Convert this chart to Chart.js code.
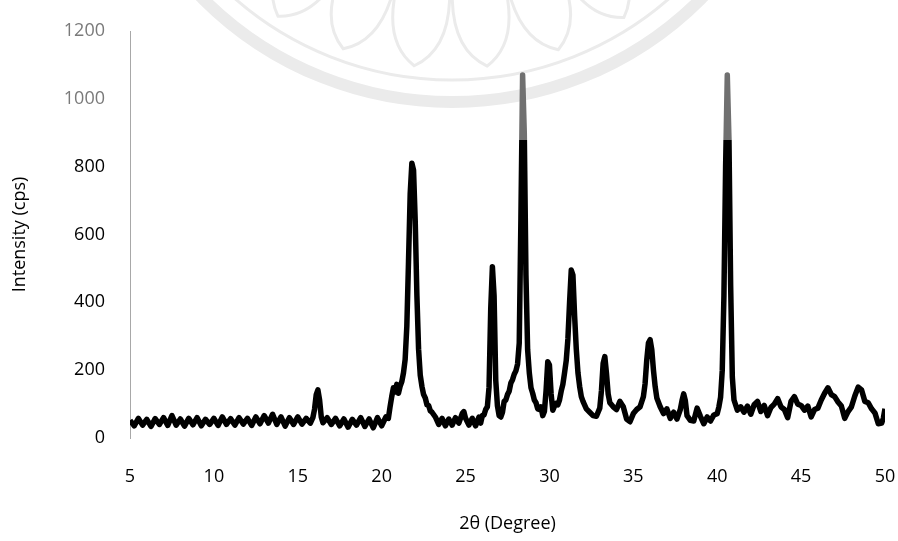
<!DOCTYPE html>
<html>
<head>
<meta charset="utf-8">
<script src="https://cdn.jsdelivr.net/npm/chart.js@4.4.1/dist/chart.umd.min.js"></script>
<style>
  html, body { margin: 0; padding: 0; background: #fff; }
  #wrap { width: 898px; height: 541px; }
</style>
</head>
<body>
<div id="wrap"><canvas id="xrd" width="898" height="541"></canvas></div>
<script>
// 2theta (degree) positions
var twoTheta = [
  5.0, 5.25, 5.5, 5.75, 6.0, 6.25, 6.5, 6.75, 7.0, 7.25, 7.5, 7.75,
  8.0, 8.25, 8.5, 8.75, 9.0, 9.25, 9.5, 9.75, 10.0, 10.25, 10.5, 10.75,
  11.0, 11.25, 11.5, 11.75, 12.0, 12.25, 12.5, 12.75, 13.0, 13.25, 13.5, 13.75,
  14.0, 14.25, 14.5, 14.75, 15.0, 15.25, 15.5, 15.75,
  15.9, 16.0, 16.1, 16.2, 16.3, 16.4, 16.5,
  16.75, 17.0, 17.25, 17.5, 17.75, 18.0, 18.25, 18.5, 18.75, 19.0, 19.25, 19.5, 19.75, 20.0, 20.25,
  20.4, 20.5, 20.6, 20.7, 20.8, 20.9, 21.0, 21.1, 21.2, 21.3, 21.4, 21.5, 21.6, 21.7, 21.8, 21.9,
  22.0, 22.1, 22.2, 22.3, 22.4, 22.5, 22.6, 22.7, 22.8, 22.9, 23.0,
  23.2, 23.4, 23.6, 23.8, 24.0, 24.2, 24.4, 24.6, 24.8, 24.9, 25.0, 25.2, 25.4, 25.6, 25.8,
  25.9, 26.0, 26.1, 26.2, 26.3, 26.4, 26.5, 26.6, 26.7, 26.8, 26.9, 27.0, 27.1, 27.2, 27.3, 27.4,
  27.5, 27.6, 27.7, 27.8, 27.9, 28.0, 28.1, 28.2, 28.3, 28.4, 28.5, 28.6, 28.7, 28.8, 28.9, 29.0,
  29.1, 29.2, 29.3, 29.4, 29.5, 29.6, 29.7, 29.8, 29.9, 30.0, 30.1, 30.2, 30.3, 30.4, 30.5, 30.6,
  30.7, 30.8, 30.9, 31.0, 31.1, 31.2, 31.3, 31.4, 31.5, 31.6, 31.7, 31.8, 31.9, 32.0,
  32.2, 32.4, 32.6, 32.8, 33.0, 33.1, 33.2, 33.3, 33.4, 33.5, 33.6, 33.8, 34.0, 34.2, 34.4, 34.6,
  34.8, 35.0, 35.2, 35.4, 35.6, 35.7, 35.8, 35.9, 36.0, 36.1, 36.2, 36.3, 36.4, 36.6, 36.8, 37.0,
  37.2, 37.4, 37.6, 37.8, 37.9, 38.0, 38.1, 38.2, 38.4, 38.6, 38.8, 39.0, 39.2, 39.4, 39.6, 39.8,
  40.0, 40.1, 40.2, 40.3, 40.4, 40.5, 40.6, 40.7, 40.8, 40.9, 41.0,
  41.2, 41.4, 41.6, 41.8, 42.0, 42.2, 42.4, 42.6, 42.8, 43.0, 43.2, 43.4, 43.6, 43.8, 44.0, 44.2,
  44.4, 44.6, 44.8, 45.0, 45.2, 45.4, 45.6, 45.8, 46.0, 46.2, 46.4, 46.6, 46.8, 47.0, 47.2, 47.4,
  47.6, 47.8, 48.0, 48.2, 48.4, 48.6, 48.8, 49.0, 49.2, 49.4, 49.6, 49.8, 49.9, 50.0
];

// intensity (cps), same order as twoTheta
var intensity = [
  52, 36, 58, 38, 55, 34, 57, 40, 60, 37, 66, 38,
  56, 35, 58, 39, 60, 36, 55, 40, 58, 37, 62, 40,
  57, 38, 60, 41, 58, 37, 62, 42, 66, 44, 70, 40,
  62, 35, 60, 40, 62, 41, 58, 44,
  60, 85, 128, 142, 112, 62, 45,
  60, 40, 58, 36, 56, 32, 55, 38, 60, 34, 56, 30, 60, 36, 62,
  58, 92, 122, 148, 136, 158, 132, 152, 166, 192, 232, 330, 520, 720, 810, 790,
  640, 420, 262, 185, 152, 128, 118, 98, 96, 80, 76,
  62, 40, 58, 36, 56, 38, 60, 44, 72, 78, 58, 38, 58, 36, 62,
  44, 66, 68, 84, 92, 150, 380, 505, 420, 170, 95, 66, 62, 76, 108, 112,
  128, 138, 162, 172, 188, 198, 218, 280, 650, 1070, 900, 480, 260, 192, 148, 132,
  112, 104, 86, 84, 92, 66, 78, 140, 225, 215, 130, 82, 94, 102, 98, 112,
  138, 158, 192, 228, 292, 400, 495, 480, 360, 262, 192, 152, 122, 108,
  86, 76, 66, 64, 88, 140, 220, 240, 190, 130, 104, 92, 84, 108, 92, 56,
  48, 72, 84, 92, 122, 160, 230, 280, 290, 260, 200, 152, 118, 92, 72, 86,
  58, 76, 56, 84, 110, 130, 110, 66, 52, 50, 88, 64, 42, 62, 50, 68,
  72, 92, 120, 200, 420, 800, 1070, 880, 450, 180, 112,
  82, 92, 76, 94, 70, 98, 108, 78, 96, 66, 90, 100, 116, 92, 84, 60,
  108, 122, 100, 96, 82, 94, 62, 84, 88, 112, 132, 148, 128, 122, 106, 94,
  58, 78, 92, 124, 150, 142, 108, 104, 86, 74, 42, 44, 58, 86
];

var xTicks = [5, 10, 15, 20, 25, 30, 35, 40, 45, 50];
var yTicks = [0, 200, 400, 600, 800, 1000, 1200];

// the scan is printed gray above this level (tops of the big peaks, top tick labels)
var grayAbove = 880;

var points = twoTheta.map(function(t, i){ return { x: t, y: intensity[i] }; });

// faint emblem behind the plot
var watermark = {
  id: 'watermark',
  beforeDraw: function(chart){
    var c = chart.ctx;
    var cx = 452, cy = -250;
    c.save();
    c.strokeStyle = '#ebebeb';
    c.lineWidth = 12;
    c.beginPath(); c.arc(cx, cy, 352, 0, Math.PI); c.stroke();
    c.lineWidth = 3;
    c.beginPath(); c.arc(cx, cy, 330, 0, Math.PI); c.stroke();
    // lotus petals, tips pointing out
    for (var a = 1.0; a <= 2.15; a += 0.23) {
      var tipX = cx + 318 * Math.cos(a), tipY = cy + 318 * Math.sin(a);
      var l = a - 0.11, r = a + 0.11;
      var lx = cx + 245 * Math.cos(l), ly = cy + 245 * Math.sin(l);
      var rx = cx + 245 * Math.cos(r), ry = cy + 245 * Math.sin(r);
      var clx = cx + 300 * Math.cos(l), cly = cy + 300 * Math.sin(l);
      var crx = cx + 300 * Math.cos(r), cry = cy + 300 * Math.sin(r);
      c.beginPath();
      c.moveTo(lx, ly);
      c.quadraticCurveTo(clx, cly, tipX, tipY);
      c.quadraticCurveTo(crx, cry, rx, ry);
      c.stroke();
    }
    c.restore();
  }
};

function lineColor(ctx){
  var chart = ctx.chart;
  var area = chart.chartArea;
  if (!area) return '#000';
  var yPix = chart.scales.y.getPixelForValue(grayAbove);
  var f = (yPix - area.top) / (area.bottom - area.top);
  f = Math.min(Math.max(f, 0), 1);
  var g = chart.ctx.createLinearGradient(0, area.top, 0, area.bottom);
  g.addColorStop(0, '#707070');
  g.addColorStop(f, '#707070');
  g.addColorStop(f, '#000');
  g.addColorStop(1, '#000');
  return g;
}

var font = { family: '"Open Sans", Lato, sans-serif', size: 18 };

new Chart(document.getElementById('xrd'), {
  type: 'line',
  data: {
    datasets: [{
      data: points,
      borderColor: lineColor,
      borderWidth: 5.5,
      borderJoinStyle: 'round',
      pointRadius: 0,
      tension: 0,
      fill: false
    }]
  },
  options: {
    responsive: false,
    animation: false,
    parsing: false,
    layout: { padding: { top: 31, right: 13, bottom: 8, left: 5 } },
    plugins: { legend: { display: false }, tooltip: { enabled: false } },
    scales: {
      x: {
        type: 'linear',
        min: 5,
        max: 50,
        afterBuildTicks: function(s){ s.ticks = xTicks.map(function(v){ return { value: v }; }); },
        afterFit: function(s){ s.height = 95; },
        grid: { display: false, drawTicks: true, tickLength: 28 },
        border: { display: false },
        ticks: { color: '#000', font: font, padding: 0, maxRotation: 0, callback: function(v){ return String(v); } },
        title: { display: true, text: '2θ (Degree)', color: '#000', font: font, padding: { top: 0, bottom: -2 } }
      },
      y: {
        min: 0,
        max: 1200,
        afterBuildTicks: function(s){ s.ticks = yTicks.map(function(v){ return { value: v }; }); },
        afterFit: function(s){ s.width = 125; },
        grid: { display: false, drawTicks: true, tickLength: 25 },
        border: { display: true, color: '#a8a8a8', width: 1, dash: [1, 3] },
        ticks: {
          font: font,
          padding: 0,
          callback: function(v){ return String(v); },
          color: function(c){ return c.tick && c.tick.value > grayAbove ? '#7a7a7a' : '#000'; }
        },
        title: { display: true, text: 'Intensity (cps)', color: '#000', font: font, padding: { top: 4, bottom: 0 } }
      }
    }
  },
  plugins: [watermark]
});
</script>
</body>
</html>
